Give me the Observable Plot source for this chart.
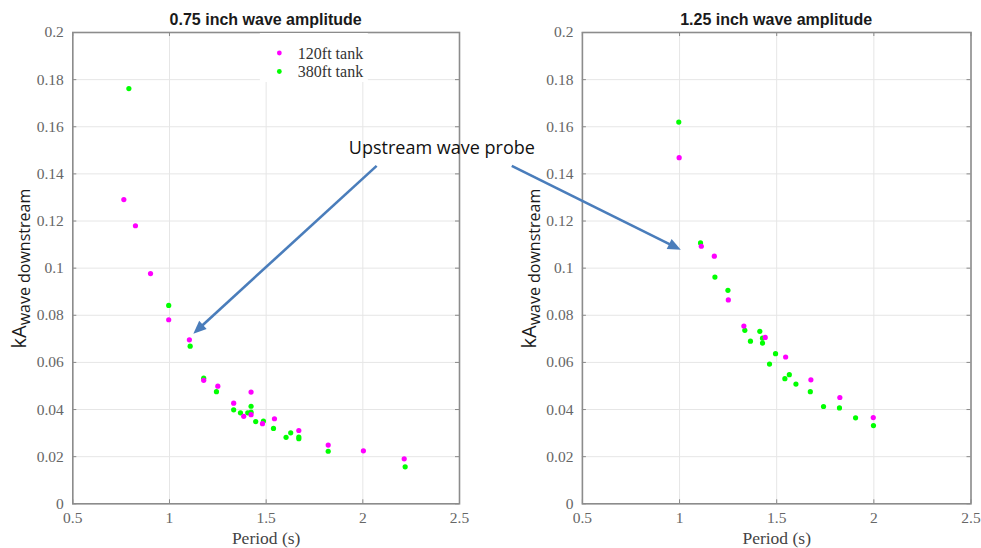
<!DOCTYPE html>
<html><head><meta charset="utf-8">
<script src="https://cdn.jsdelivr.net/npm/d3@7"></script>
<script src="https://cdn.jsdelivr.net/npm/@observablehq/plot@0.6"></script>
<style>
body{margin:0;background:#fff;}
#wrap{position:relative;width:981px;height:548px;overflow:hidden;background:#fff;}
.panel{position:absolute;top:0;}
.panel text{font-family:"Liberation Serif","Times New Roman",serif !important;}
#overlay{position:absolute;left:0;top:0;pointer-events:none;}
</style></head><body>
<div id="wrap"></div>
<script>
// ---- data: 0.75 inch wave amplitude ----
const small120Period = [0.764,0.824,0.902,0.996,1.103,1.177,1.250,1.332,1.384,1.422,1.422,1.481,1.543,1.669,1.821,2.003,2.214];
const small120kA     = [0.1291,0.1180,0.0977,0.0781,0.0696,0.0524,0.0499,0.0427,0.0371,0.0474,0.0378,0.0340,0.0361,0.0311,0.0249,0.0225,0.0191];
const small380Period = [0.790,0.996,1.107,1.177,1.243,1.332,1.367,1.405,1.422,1.422,1.446,1.486,1.538,1.603,1.627,1.669,1.669,1.821,2.219];
const small380kA     = [0.1762,0.0842,0.0669,0.0533,0.0476,0.0399,0.0386,0.0386,0.0414,0.0389,0.0349,0.0351,0.0320,0.0282,0.0301,0.0283,0.0276,0.0223,0.0157];
// ---- data: 1.25 inch wave amplitude ----
const large120Period = [0.998,1.112,1.179,1.251,1.331,1.441,1.546,1.676,1.825,1.997];
const large120kA     = [0.1469,0.1093,0.1051,0.0865,0.0754,0.0706,0.0623,0.0526,0.0451,0.0366];
const large380Period = [0.996,1.108,1.182,1.249,1.336,1.365,1.413,1.427,1.427,1.463,1.494,1.542,1.565,1.599,1.673,1.741,1.823,1.906,1.998];
const large380kA     = [0.1620,0.1107,0.0962,0.0906,0.0736,0.0690,0.0732,0.0703,0.0682,0.0593,0.0637,0.0531,0.0548,0.0508,0.0476,0.0413,0.0407,0.0365,0.0332];
// ---- axes / text ----
const xTicks = [0.5,1,1.5,2,2.5];
const yTicks = [0,0.02,0.04,0.06,0.08,0.1,0.12,0.14,0.16,0.18,0.2];
const titles = ["0.75 inch wave amplitude","1.25 inch wave amplitude"];
const seriesNames = ["120ft tank","380ft tank"];
const seriesColors = ["#ff00ff","#00ff00"];
const xLabel = "Period (s)";
const annotationText = "Upstream wave probe";
// arrows: [panel, x0, y0, x1, y1] in that panel's data coordinates
const arrows = [[0,2.074,0.1432,1.126,0.0720],[1,0.139,0.1432,1.009,0.1076]];

const W=981,H=548,MT=32,MB=44.7;
const SERIF="Liberation Serif, Times New Roman, serif";
const panels=[
  {left:0,width:490,ml:72.3,mr:31,p120:small120Period,k120:small120kA,p380:small380Period,k380:small380kA},
  {left:490,width:491,ml:91.9,mr:10.5,p120:large120Period,k120:large120kA,p380:large380Period,k380:large380kA}
];
const wrap=document.getElementById("wrap");
const plots=[];
panels.forEach((p,pi)=>{
  const fw=p.width-p.ml-p.mr, fh=H-MT-MB;
  const d120=p.p120.map((x,i)=>({x,y:p.k120[i]}));
  const d380=p.p380.map((x,i)=>({x,y:p.k380[i]}));
  const tk="#8a8a8a";
  const pl=Plot.plot({
    width:p.width,height:H,marginLeft:p.ml,marginRight:p.mr,marginTop:MT,marginBottom:MB,
    x:{domain:[0.5,2.5]},y:{domain:[0,0.2]},
    style:{fontFamily:SERIF,fontSize:"15px",color:"#666",background:"transparent",overflow:"visible"},
    marks:[
      Plot.gridX(xTicks,{stroke:"#e6e6e6",strokeOpacity:1}),
      Plot.gridY(yTicks,{stroke:"#e6e6e6",strokeOpacity:1}),
      Plot.tickX(xTicks,{x:d=>d,insetTop:fh-4,stroke:tk}),
      Plot.tickX(xTicks,{x:d=>d,insetBottom:fh-4,stroke:tk}),
      Plot.tickY(yTicks,{y:d=>d,insetRight:fw-4,stroke:tk}),
      Plot.tickY(yTicks,{y:d=>d,insetLeft:fw-4,stroke:tk}),
      Plot.frame({stroke:"#8c8c8c",strokeWidth:1.6}),
      Plot.axisX(xTicks,{tickSize:0,tickPadding:8,tickFormat:d=>String(d),label:null,fill:"#666",fontSize:15.5}),
      Plot.axisY(yTicks,{tickSize:0,tickPadding:9,tickFormat:d=>String(+d.toFixed(2)),label:null,fill:"#666",fontSize:15.5}),
      Plot.dot(d380,{x:"x",y:"y",r:2.6,fill:seriesColors[1],stroke:null}),
      Plot.dot(d120,{x:"x",y:"y",r:2.6,fill:seriesColors[0],stroke:null}),
      Plot.text([xLabel],{frameAnchor:"bottom",dy:34.5,text:d=>d,fontSize:17.5,fill:"#444",lineAnchor:"middle"})
    ]
  });
  pl.classList.add("panel");
  pl.style.left=p.left+"px";
  d3.select(pl).selectAll("text").style("font-family",SERIF);
  wrap.appendChild(pl);
  plots.push(pl);
});

// overlay
const svg=d3.select(wrap).append("svg").attr("id","overlay").attr("width",W).attr("height",H);
panels.forEach((p,pi)=>{
  const sx=plots[pi].scale("x"), sy=plots[pi].scale("y");
  const cx=p.left+(sx.apply(0.5)+sx.apply(2.5))/2;
  svg.append("text").attr("x",cx).attr("y",25).attr("text-anchor","middle")
    .attr("font-family","'Liberation Sans',Arial,sans-serif").attr("font-weight","bold").attr("font-size",16)
    .attr("fill","#1a1a1a").text(titles[pi]);
  // y label
  const lx=p.left+sx.apply(0.5)-46, ly=(sy.apply(0)+sy.apply(0.2))/2+1;
  const t=svg.append("text").attr("transform",`translate(${lx},${ly}) rotate(-90)`).attr("text-anchor","middle")
    .attr("font-family","'Open Sans',sans-serif").attr("fill","#1a1a1a");
  t.append("tspan").attr("font-size",20).text("kA");
  t.append("tspan").attr("font-size",16).attr("dy",4).text("wave downstream");
});
// legend (left panel)
{
  const p=panels[0], sx=plots[0].scale("x"), sy=plots[0].scale("y");
  const x0=p.left+sx.apply(1.47), y0=sy.apply(0.2)+1;
  svg.append("rect").attr("x",x0).attr("y",y0).attr("width",108).attr("height",49).attr("fill","#fff");
  seriesNames.forEach((n,i)=>{
    const yy=y0+20+i*18.5;
    svg.append("circle").attr("cx",x0+19.5).attr("cy",yy).attr("r",2.4).attr("fill",seriesColors[i]);
    svg.append("text").attr("x",x0+38).attr("y",yy).attr("dy","0.35em").attr("font-family",SERIF)
      .attr("font-size",16).attr("fill","#333").text(n);
  });
}
// annotation
{
  const sx=plots[0].scale("x"), sy=plots[0].scale("y");
  svg.append("text").attr("x",sx.apply(2.07)+66).attr("y",sy.apply(0.1432)-12).attr("text-anchor","middle")
    .attr("font-family","'Open Sans',sans-serif").attr("font-size",18).attr("fill","#111").text(annotationText);
  const col="#4a7dbb";
  arrows.forEach(([pi,x0,y0,x1,y1])=>{
    const p=panels[pi], sx=plots[pi].scale("x"), sy=plots[pi].scale("y");
    const X0=p.left+sx.apply(x0), Y0=sy.apply(y0), X1=p.left+sx.apply(x1), Y1=sy.apply(y1);
    const dx=X1-X0, dy=Y1-Y0, L=Math.hypot(dx,dy), ux=dx/L, uy=dy/L;
    const hl=13, hw=5.5;
    const bx=X1-ux*hl, by=Y1-uy*hl;
    svg.append("line").attr("x1",X0).attr("y1",Y0).attr("x2",bx+ux*2).attr("y2",by+uy*2)
      .attr("stroke",col).attr("stroke-width",2.6);
    svg.append("path").attr("d",`M${X1},${Y1}L${bx-uy*hw},${by+ux*hw}L${bx+uy*hw},${by-ux*hw}Z`).attr("fill",col);
  });
}
</script>
</body></html>
